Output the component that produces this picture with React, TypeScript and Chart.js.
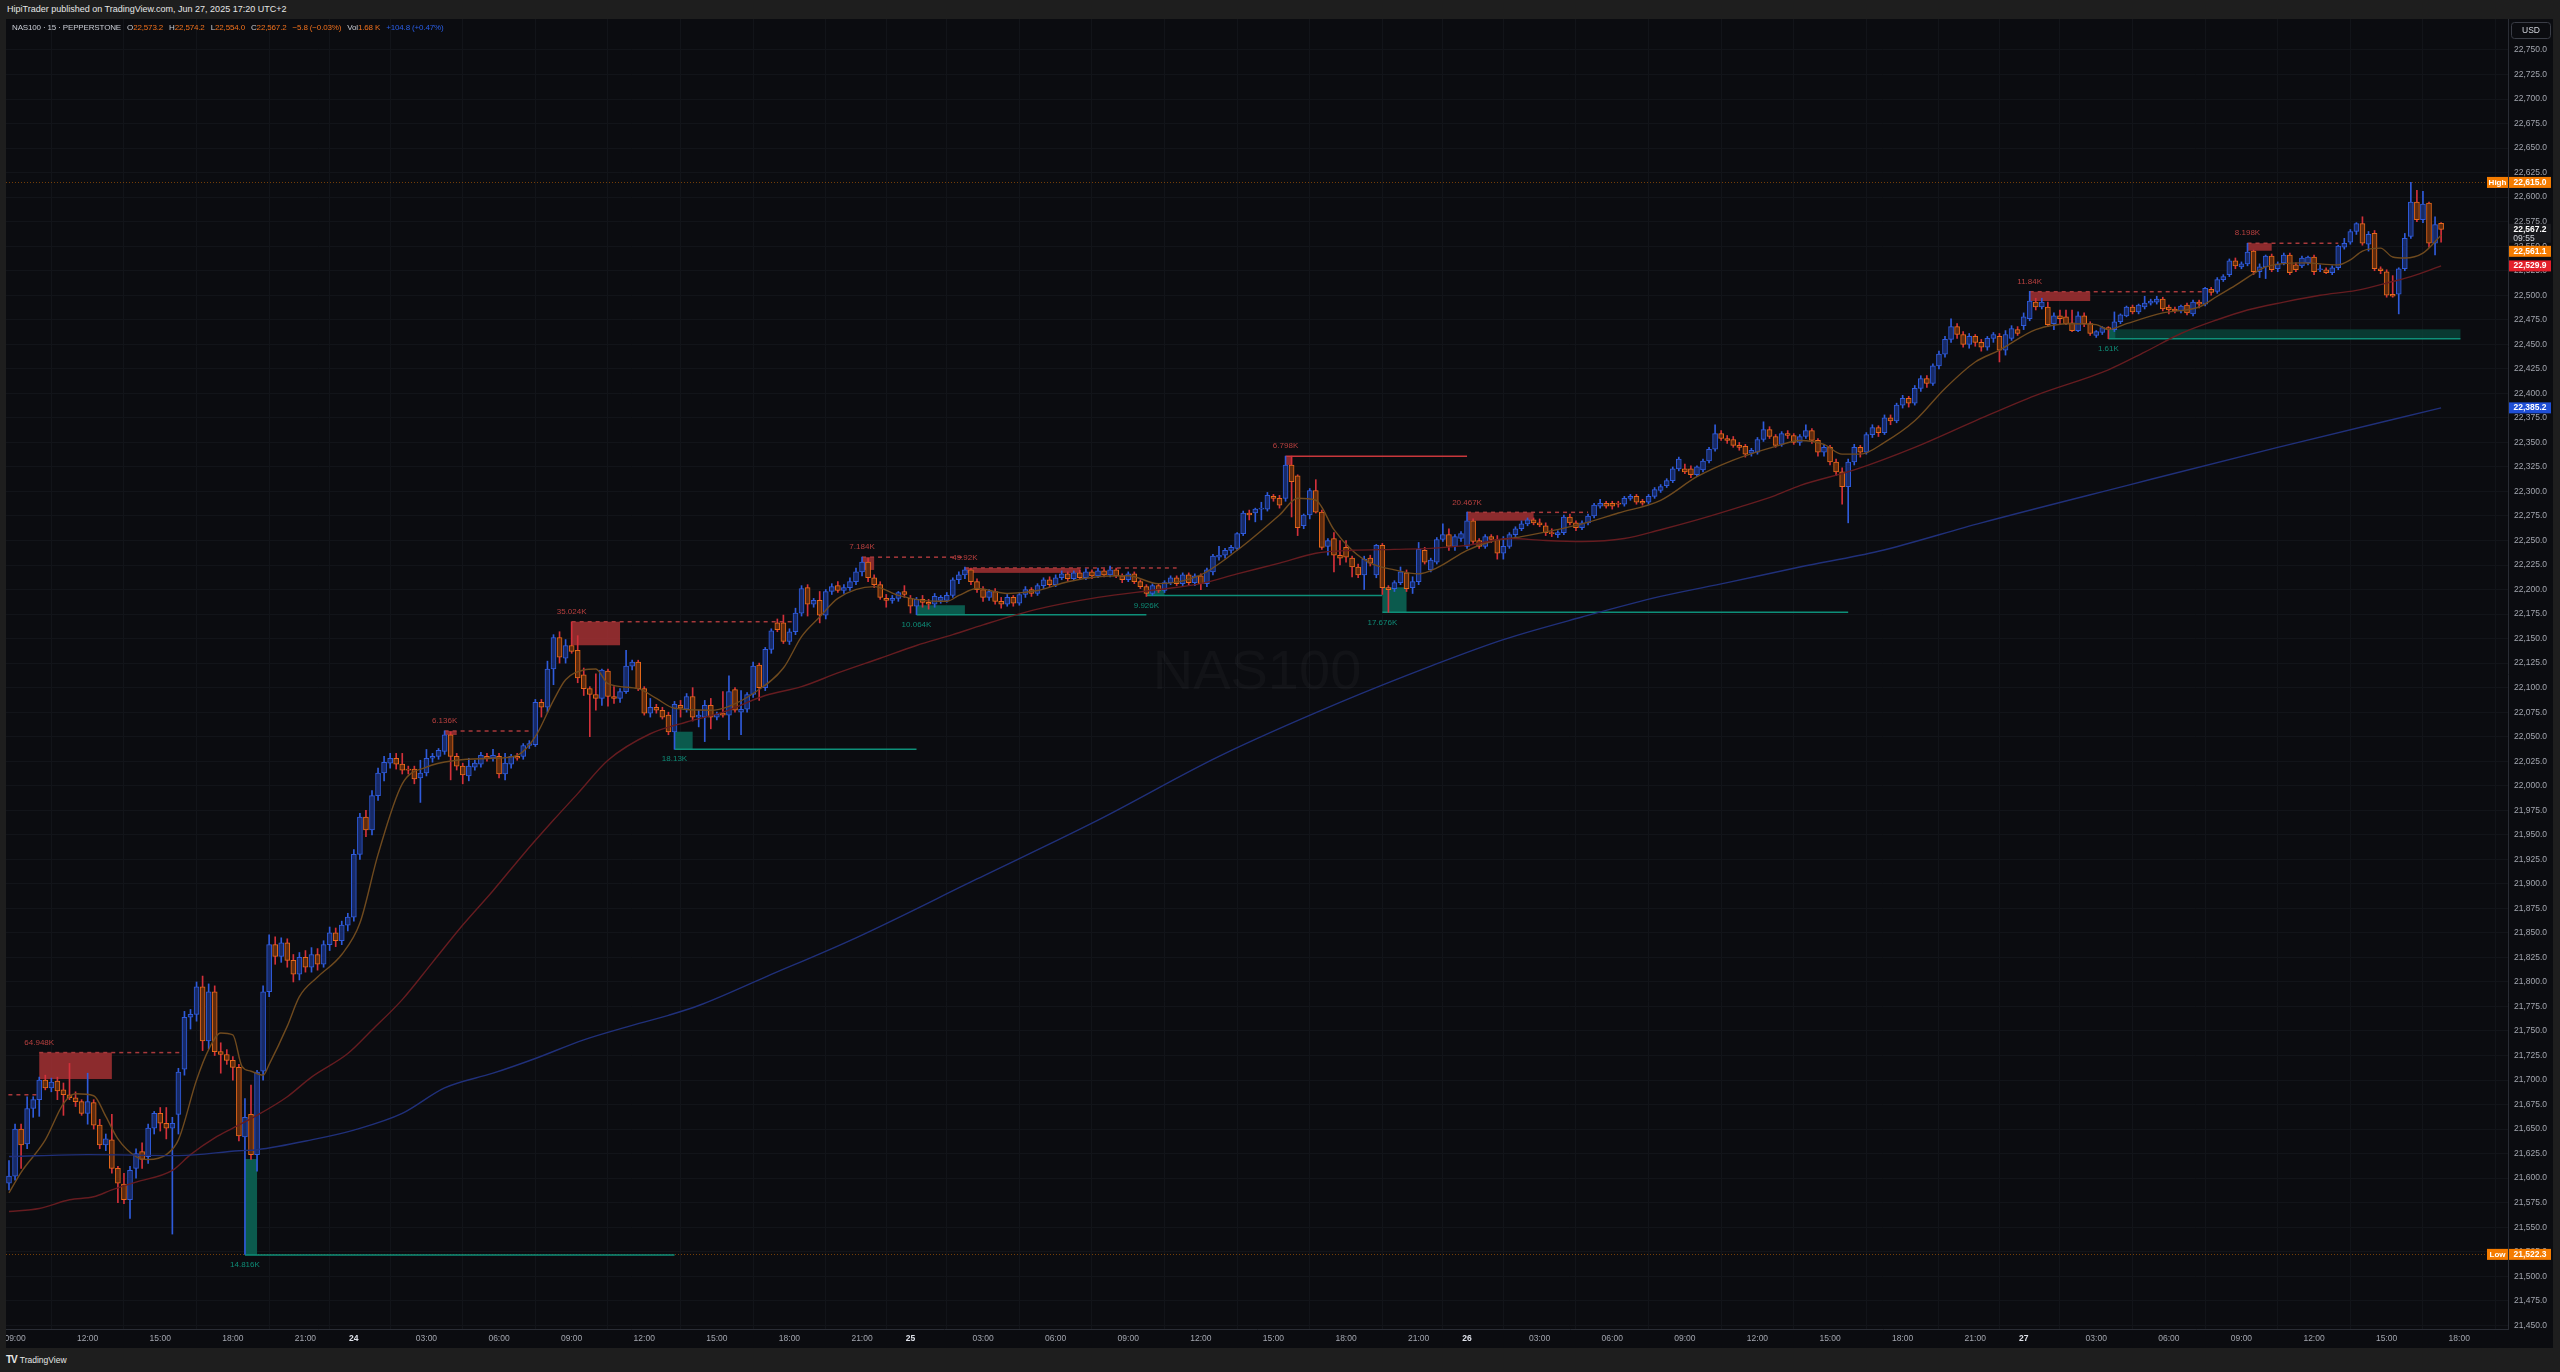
import React, { useEffect, useRef } from 'react';
import { Chart, registerables } from 'chart.js';

Chart.register(...registerables);

type Candle = [number, number, number, number]; // open, high, low, close

// ---- 15-minute candles, NAS100, Jun 23 – Jun 27 2025 ----
const jun23: Candle[] = [
  [21595,21618,21588,21602],[21602,21655,21598,21650],[21650,21655,21610,21634],[21635,21683,21630,21671],
  [21671,21683,21662,21680],[21680,21703,21663,21700],[21700,21705,21690,21692],[21692,21702,21688,21698],
  [21699,21703,21680,21689],[21690,21697,21664,21685],[21685,21717,21680,21682],[21682,21688,21673,21678],
  [21678,21680,21664,21666],[21666,21707,21655,21678],[21677,21680,21650,21654],[21654,21660,21630,21634],
  [21634,21645,21628,21640],[21639,21665,21605,21610],[21610,21612,21575,21595],[21594,21605,21574,21578],
  [21578,21612,21559,21608],[21610,21630,21600,21625],[21627,21636,21610,21619],[21622,21655,21615,21651],
  [21651,21668,21645,21666],[21666,21672,21648,21656],[21656,21672,21640,21651],[21651,21662,21543,21656],
  [21665,21712,21645,21708],[21711,21770,21705,21764],[21764,21772,21752,21767],[21767,21800,21760,21795],
  [21795,21806,21730,21740],[21740,21798,21732,21790],[21790,21796,21725,21729],[21729,21738,21707,21726],
  [21726,21731,21716,21720],[21720,21724,21700,21713],[21713,21716,21638,21643],[21642,21681,21522.3,21662],
  [21665,21695,21619,21624],[21624,21710,21607,21708],[21709,21796,21700,21790],[21790,21848,21785,21838],
  [21838,21846,21818,21826],[21826,21845,21820,21840],[21840,21844,21815,21822],[21822,21828,21800,21808],
  [21808,21830,21802,21825],[21825,21832,21810,21815],[21815,21835,21810,21828],[21828,21834,21812,21818],
  [21818,21842,21815,21838],[21838,21856,21832,21850],[21850,21855,21836,21842],[21842,21862,21838,21858],
  [21858,21870,21852,21866],
];
const jun24: Candle[] = [
  [21866,21935,21862,21930],[21930,21972,21925,21968],[21968,21975,21948,21955],[21955,21995,21950,21990],
  [21990,22018,21985,22013],[22013,22030,22005,22024],[22023,22033,22018,22028],[22028,22033,22017,22022],
  [22022,22033,22012,22016],[22017,22020,22012,22016],[22017,22020,22002,22007],[22008,22026,21983,22013],
  [22013,22037,22010,22028],[22028,22033,22024,22030],[22030,22038,22027,22036],[22035,22056,22032,22052],
  [22052,22055,22006,22030],[22030,22033,22016,22020],[22020,22023,22002,22011],[22010,22028,22005,22020],
  [22019,22026,22016,22023],[22022,22034,22019,22031],[22030,22033,22025,22028],[22028,22037,22025,22031],
  [22030,22033,22008,22012],[22012,22033,22006,22023],[22022,22032,22018,22030],[22030,22033,22026,22028],
  [22030,22043,22027,22041],[22041,22046,22038,22043],[22042,22088,22040,22085],[22085,22088,22070,22080],
  [22080,22127,22075,22119],[22119,22154,22103,22151],[22151,22157,22125,22131],[22130,22149,22125,22143],
  [22143,22167,22135,22137],[22138,22153,22105,22110],[22113,22120,22092,22099],[22099,22101,22050,22093],
  [22093,22114,22077,22089],[22089,22119,22082,22118],[22117,22119,22081,22091],[22091,22101,22084,22089],
  [22089,22099,22085,22096],[22096,22138,22094,22122],[22122,22128,22118,22126],[22126,22128,22097,22099],
  [22099,22101,22072,22074],[22074,22089,22070,22080],[22080,22083,22074,22077],[22077,22080,22068,22070],
  [22072,22075,22052,22055],[22055,22086,22037.2,22083],[22082,22087,22070,22079],[22078,22094,22075,22091],
  [22091,22100,22066,22070],[22070,22077,22060,22072],[22070,22087,22045,22082],[22082,22089,22058,22070],
  [22070,22075,22067,22073],[22074,22096,22070,22072],[22072,22112,22047,22096],[22098,22100,22075,22077],
  [22075,22097,22052,22078],[22078,22095,22075,22093],[22093,22126,22090,22122],[22123,22125,22087,22100],
  [22100,22141,22097,22139],[22139,22160,22135,22158],[22166,22170,22157,22159],[22166,22174,22145,22147],
  [22147,22160,22144,22157],[22157,22181,22154,22176],[22176,22204,22173,22201],[22202,22205,22173,22185],
  [22185,22191,22182,22189],[22189,22198,22166,22174],[22174,22200,22170,22198],[22198,22206,22195,22203],
  [22204,22208,22197,22199],[22199,22205,22196,22202],[22202,22212,22199,22208],[22208,22222,22205,22218],
  [22218,22233,22214,22228],[22228,22232,22208,22212],[22212,22215,22202,22205],[22205,22208,22190,22192],
  [22191,22195,22182,22189],[22189,22194,22186,22191],[22191,22198,22188,22197],[22198,22204,22192,22195],
];
const jun25: Candle[] = [
  [22191,22194,22176,22183],[22183,22192,22174.4,22190],[22190,22194,22182,22187],[22187,22190,22180,22185],
  [22185,22196,22182,22193],[22189,22194,22186,22192],[22189,22197,22187,22194],[22194,22212,22192,22210],
  [22210,22218,22206,22215],[22215,22223,22211,22220],[22220,22222,22205,22208],[22208,22211,22197,22200],
  [22200,22203,22188,22192],[22192,22200,22189,22198],[22198,22201,22185,22188],[22188,22192,22181,22185],
  [22185,22195,22183,22192],[22192,22194,22183,22186],[22186,22197,22184,22195],[22195,22203,22192,22200],
  [22200,22202,22193,22196],[22196,22206,22194,22204],[22204,22212,22201,22210],[22210,22213,22203,22205],
  [22205,22215,22203,22212],[22212,22219,22210,22216],[22216,22218,22208,22211],[22211,22219,22209,22217],
  [22217,22220,22210,22212],[22212,22221,22210,22218],[22218,22220,22211,22214],[22214,22222,22212,22219],
  [22219,22221,22213,22215],[22215,22224,22213,22220],[22220,22222,22212,22214],[22214,22216,22207,22210],
  [22210,22218,22208,22216],[22216,22218,22206,22208],[22208,22210,22201,22203],[22203,22205,22193,22196],
  [22196,22206,22194,22204],[22204,22206,22197,22199],[22199,22209,22197,22207],[22207,22214,22205,22212],
  [22212,22214,22204,22206],[22206,22217,22204,22215],[22215,22217,22205,22207],[22207,22216,22204,22214],
  [22214,22216,22200,22206],[22206,22222,22203,22220],[22218,22236,22215,22234],[22233,22244,22230,22235],
  [22235,22242,22232,22240],[22240,22245,22237,22243],[22242,22258,22240,22257],[22257,22280,22255,22278],
  [22278,22281,22271,22276],[22278,22283,22269,22282],[22282,22289,22271,22283],[22282,22299,22280,22296],
  [22295,22297,22290,22293],[22293,22296,22283,22286],[22293,22336,22290,22327],[22327,22336,22274,22310],
  [22316,22317,22255,22263],[22265,22277,22262,22276],[22276,22303,22272,22301],[22301,22312,22278,22279],
  [22279,22281,22241,22243],[22244,22252,22235,22250],[22252,22258,22218,22235],[22235,22250,22225,22232],
  [22243,22250,22228,22233],[22232,22234,22213,22223],[22223,22226,22212,22215],[22215,22234,22200,22231],
  [22232,22235,22224,22227],[22215,22246,22212,22245],[22245,22247,22195,22202],[22202,22204,22176.8,22200],
  [22201,22209,22198,22207],[22207,22223,22205,22218],[22217,22220,22198,22201],[22202,22213,22196,22208],
  [22208,22248,22205,22241],[22240,22243,22226,22228],[22220,22232,22218,22230],[22228,22253,22226,22251],
  [22251,22267,22249,22256],[22256,22262,22240,22244],[22244,22256,22240,22254],[22252,22259,22249,22257],
];
const jun26: Candle[] = [
  [22244,22279,22242,22270],[22270,22272,22247,22249],[22250,22252,22242,22244],[22244,22256,22242,22254],
  [22254,22256,22248,22251],[22251,22255,22231,22237],[22237,22254,22231,22244],[22244,22258,22242,22256],
  [22256,22264,22254,22262],[22262,22270,22260,22267],[22267,22273,22265,22271],[22271,22273,22266,22268],
  [22268,22272,22264,22266],[22265,22268,22255,22258],[22258,22262,22254,22257],[22256,22260,22253,22258],
  [22258,22276,22256,22274],[22274,22277,22266,22268],[22268,22270,22260,22263],[22263,22270,22261,22268],
  [22268,22277,22266,22275],[22275,22288,22273,22286],[22285,22292,22283,22288],[22288,22290,22283,22285],
  [22288,22290,22282,22285],[22288,22290,22284,22287],[22287,22295,22285,22293],[22293,22297,22291,22295],
  [22295,22297,22287,22289],[22290,22292,22286,22288],[22289,22297,22287,22295],[22295,22304,22293,22302],
  [22301,22307,22299,22305],[22306,22313,22304,22311],[22311,22325,22309,22323],[22323,22335,22321,22333],
  [22323,22328,22318,22320],[22323,22326,22314,22317],[22317,22326,22315,22325],[22322,22333,22320,22331],
  [22331,22345,22329,22343],[22343,22368,22341,22359],[22359,22362,22352,22354],[22354,22357,22349,22352],
  [22353,22356,22345,22347],[22347,22350,22342,22345],[22346,22348,22335,22338],[22339,22344,22336,22342],
  [22340,22355,22338,22353],[22353,22371,22351,22363],[22363,22366,22354,22356],[22356,22358,22345,22347],
  [22348,22361,22346,22359],[22359,22362,22354,22357],[22357,22359,22348,22350],[22350,22358,22347,22356],
  [22356,22368,22354,22362],[22362,22364,22349,22352],[22352,22354,22336,22340],[22340,22348,22336,22345],
  [22345,22347,22327,22330],[22330,22333,22316,22320],[22320,22324,22287,22305],[22305,22333,22268,22330],
  [22330,22348,22327,22345],[22345,22347,22335,22340],[22340,22360,22338,22358],[22358,22368,22355,22365],
  [22365,22367,22356,22360],[22360,22378,22358,22375],[22375,22378,22368,22372],[22372,22390,22370,22388],
  [22388,22398,22385,22395],[22395,22397,22386,22390],[22390,22408,22388,22405],[22405,22418,22402,22415],
  [22415,22418,22406,22410],[22410,22430,22408,22428],[22428,22443,22425,22440],[22440,22458,22437,22455],
  [22455,22476,22452,22468],[22468,22471,22456,22460],[22460,22463,22447,22450],[22450,22461,22446,22458],
  [22458,22460,22448,22452],[22452,22455,22443,22447],[22447,22458,22444,22456],[22456,22462,22452,22460],
  [22458,22461,22432,22444],[22444,22464,22439,22460],[22456,22469,22454,22466],[22465,22468,22459,22461],
];
const jun27: Candle[] = [
  [22469,22482,22465,22478],[22476,22504,22474,22494],[22493,22497,22485,22488],[22488,22497,22486,22493],
  [22488,22493,22468,22470],[22471,22482,22465,22479],[22479,22485,22471,22476],[22478,22485,22470,22471],
  [22472,22485,22463,22464],[22464,22483,22463,22479],[22479,22482,22468,22471],[22471,22473,22459,22461],
  [22459,22464,22457,22463],[22462,22468,22460,22467],[22467,22468,22455.7,22465],[22465,22483,22463,22473],
  [22473,22481,22471,22480],[22479,22489,22478,22488],[22488,22490,22481,22483],[22483,22491,22481,22490],
  [22488,22499,22486,22492],[22492,22496,22490,22494],[22493,22499,22491,22496],[22496,22498,22484,22486],
  [22488,22490,22481,22485],[22486,22488,22482,22484],[22484,22490,22482,22489],[22490,22492,22480,22482],
  [22481,22495,22479,22493],[22493,22495,22487,22491],[22491,22508,22489,22507],[22506,22508,22500,22503],
  [22504,22518,22502,22516],[22516,22521,22514,22519],[22521,22537,22519,22535],[22535,22538,22527,22530],
  [22529,22534,22527,22532],[22532,22553,22530,22544],[22545,22546,22521,22524],[22524,22532,22518,22529],
  [22529,22541,22517,22540],[22540,22542,22524,22526],[22527,22534,22524,22532],[22533,22543,22531,22541],
  [22541,22543,22521,22523],[22531,22533,22524,22526],[22530,22540,22528,22538],[22533,22540,22531,22539],
  [22539,22541,22521,22524],[22526,22531,22524,22527],[22526,22528,22522,22523],[22523,22530,22521,22528],
  [22528,22551,22526,22550],[22549,22558,22547,22553],[22554,22567,22552,22565],[22565,22574,22562,22573],
  [22573,22580,22551,22553],[22552,22565,22545,22562],[22563,22566,22525,22527],[22527,22529,22522,22525],
  [22524,22526,22498,22500],[22501,22520,22498,22499],[22501,22528,22481,22527],[22527,22563,22525,22558],
  [22560,22615,22558,22595],[22595,22607,22575,22577],[22577,22606,22574,22593],[22594,22595,22549,22553],
  [22553,22580,22541,22572],[22573.2,22574.2,22554.0,22567.2],
];

// ---- time axis ----
const tickBars = [1,13,25,37,49,57,69,81,93,105,117,129,141,149,161,173,185,197,209,221,233,241,253,265,277,289,301,313,325,333,345,357,369,381,393,405];
const tickLabels = ['09:00','12:00','15:00','18:00','21:00','24','03:00','06:00','09:00','12:00','15:00','18:00','21:00','25','03:00','06:00','09:00','12:00','15:00','18:00','21:00','26','03:00','06:00','09:00','12:00','15:00','18:00','21:00','27','03:00','06:00','09:00','12:00','15:00','18:00'];
const dayLabels = ['24','25','26','27'];

// ---- price axis ----
const priceTickFrom = 21450;
const priceTickTo = 22750;
const priceTickStep = 25;

// ---- moving averages (read at sample bars) ----
const fastMaBars = [0,2,6,9,11,14,16,18,21,23,26,28,31,33,35,37,38.5,40,42,43,46,48,51,55,58,61,65,69,74,80,84,87,90,92,95,97,99,104,107,110,116,119,123,128,131,134,137,143,147,151,155,157,160,165,170,175,180,185,190,197,203,210,213,216,219,222,225,229,233,236,241,245,250,260,266,273,279,285,292,296,300,303,306,310,315,320,325,329,335,341,345,347,350,356,362,365,368,371,373,379,385,387,389,392,394,396,399,402];
const fastMaValues = [21585,21606,21639,21676,21686,21684,21663,21640,21622,21619,21624,21639,21700,21731,21748,21746,21714,21709,21705,21716,21755,21785,21805,21828,21860,21930,22002,22019,22026,22028,22031,22050,22087,22108,22118,22119,22104,22099,22089,22079,22077,22081,22094,22120,22152,22172,22191,22203,22194,22189,22188,22194,22201,22196,22199,22208,22213,22214,22206,22215,22240,22276,22293,22291,22261,22240,22227,22220,22216,22222,22240,22249,22254,22267,22278,22291,22315,22332,22346,22352,22348,22338,22338,22350,22372,22405,22432,22444,22465,22471,22470,22465,22471,22482,22488,22499,22510,22522,22529,22533,22531,22536,22545,22548,22539,22538,22543,22561.1];
const midMaBars = [0,5,10,14,17,21,27,30,34,37,41,46,50,56,60,65,70,75,80,85,90,94,99,106,112,118,125,131,137,144,150,156,161,170,180,190,197,203,210,216,222,229,235,241,248,254,260,267,273,279,286,292,296,305,315,325,335,347,353,359,365,370,376,382,388,394,397,402];
const midMaValues = [21566,21569,21578,21581,21588,21596,21608,21624,21641,21651,21664,21683,21703,21727,21751,21782,21820,21858,21893,21930,21965,21992,22026,22053,22065,22075,22092,22101,22115,22130,22143,22154,22164,22180,22192,22200,22206,22216,22227,22237,22240,22241,22242,22245,22252,22250,22249,22252,22261,22271,22284,22296,22306,22322,22345,22372,22398,22424,22442,22461,22475,22485,22493,22500,22505,22514,22519,22529.9];
const slowMaBars = [0,13,28,38,41,50,57,65,72,80,87,95,102,109,114,125,140,160,180,200,220,235,247,260,273,284,296,309,326,350,375,402];
const slowMaValues = [21622,21624,21623,21628,21629,21639,21649,21666,21692,21707,21722,21741,21754,21766,21776,21805,21845,21905,21965,22030,22085,22122,22149,22172,22193,22207,22223,22239,22268,22306,22345,22385.2];

// ---- volume-profile zones ----
const supplyZones = [
  { from: -12, to: -2, low: 21672, high: 21685, lineTo: 5, label: '', solid: false },
  { from: 5, to: 17, low: 21701, high: 21728, lineTo: 29, label: '64.948K', solid: false },
  { from: 72, to: 74, low: 22051.7, high: 22055.8, lineTo: 86, label: '6.136K', solid: false },
  { from: 93, to: 101, low: 22143.2, high: 22167.2, lineTo: 130, label: '35.024K', solid: false },
  { from: 141, to: 143, low: 22220, high: 22233, lineTo: 158, label: '7.184K', solid: false },
  { from: 158, to: 177, low: 22217, high: 22222, lineTo: 193, label: '49.92K', solid: false },
  { from: 211, to: 212, low: 22327, high: 22336, lineTo: 241, label: '6.798K', solid: true },
  { from: 241, to: 252, low: 22270.2, high: 22278.7, lineTo: 261, label: '20.467K', solid: false },
  { from: 334, to: 344, low: 22494.1, high: 22503.6, lineTo: 363, label: '11.84K', solid: false },
  { from: 370, to: 374, low: 22545.4, high: 22553, lineTo: 385, label: '8.198K', solid: false },
];
const demandZones = [
  { from: 39, to: 41, low: 21521.6, high: 21619.5, lineTo: 110, extendTo: 0, label: '14.816K' },
  { from: 110, to: 113, low: 22037.2, high: 22055.1, lineTo: 150, extendTo: 0, label: '18.13K' },
  { from: 150, to: 158, low: 22174.4, high: 22184, lineTo: 188, extendTo: 0, label: '10.064K' },
  { from: 188, to: 191, low: 22194, high: 22200, lineTo: 227, extendTo: 0, label: '9.926K' },
  { from: 227, to: 231, low: 22176.8, high: 22202.3, lineTo: 304, extendTo: 0, label: '17.676K' },
  { from: 347, to: 348.2, low: 22455.7, high: 22465.3, lineTo: 405.2, extendTo: 405.2, label: '1.61K' },
];

const symbolName = 'NAS100';
const highValue = 22615.0;
const lowValue = 21522.3;
const lastPrice = 22567.2;
const countdown = '09:55';
const fastLast = 22561.1;
const midLast = 22529.9;
const slowLast = 22385.2;

// ---- layout of the pane (pixels) ----
const PX_PER_BAR = 6.05;
const FIRST_BAR_X = 3;      // canvas x of bar 0
const PX_PER_POINT = 0.981;
const TOP_TICK_Y = 31;      // canvas y of the top price tick

const FONT = '"Liberation Sans", Arial, sans-serif';
const UP = '#2f5bdb';
const UP_FILL = '#172a66';
const DOWN = '#e8691a';
const DOWN_FILL = '#5e2b0e';
const DOWN_WICK = '#d3303a';
const BG = '#0b0c10';

const fmt = (v: number) => v.toLocaleString('en-US', { minimumFractionDigits: 1, maximumFractionDigits: 1 });

const overlay = {
  id: 'overlay',
  beforeDatasetsDraw(chart: any) {
    const { ctx, chartArea: a, scales } = chart;
    const x = scales.x, y = scales.y;
    ctx.save();
    ctx.beginPath();
    ctx.rect(a.left, a.top, a.right - a.left, a.bottom - a.top);
    ctx.clip();
    ctx.font = `56px ${FONT}`;
    ctx.fillStyle = 'rgba(255,255,255,0.03)';
    ctx.textAlign = 'center';
    ctx.textBaseline = 'middle';
    ctx.fillText(symbolName, (a.left + a.right) / 2, 655);
    ctx.strokeStyle = 'rgba(245,124,0,0.45)';
    ctx.lineWidth = 1;
    ctx.setLineDash([1, 2]);
    [highValue, lowValue].forEach((v) => {
      const py = Math.round(y.getPixelForValue(v)) + 0.5;
      ctx.beginPath();
      ctx.moveTo(a.left, py);
      ctx.lineTo(a.right, py);
      ctx.stroke();
    });
    ctx.setLineDash([]);
    supplyZones.forEach((z) => {
      const x0 = x.getPixelForValue(z.from), x1 = x.getPixelForValue(z.to);
      const yt = y.getPixelForValue(z.high), yb = y.getPixelForValue(z.low);
      ctx.fillStyle = 'rgba(168,50,52,0.82)';
      ctx.fillRect(x0, yt, x1 - x0, Math.max(yb - yt, 2));
      ctx.strokeStyle = z.solid ? '#c8373b' : '#a8393b';
      ctx.lineWidth = 1.5;
      ctx.setLineDash(z.solid ? [] : [4, 4]);
      ctx.beginPath();
      ctx.moveTo(x0, yt);
      ctx.lineTo(x.getPixelForValue(z.lineTo), yt);
      ctx.stroke();
      ctx.setLineDash([]);
    });
    demandZones.forEach((z) => {
      const x0 = x.getPixelForValue(z.from), x1 = x.getPixelForValue(z.to);
      const yt = y.getPixelForValue(z.high), yb = y.getPixelForValue(z.low);
      if (z.extendTo) {
        const xe = x.getPixelForValue(z.extendTo);
        ctx.fillStyle = 'rgba(10,72,62,0.75)';
        ctx.fillRect(x1, yt, xe - x1, yb - yt);
      }
      ctx.fillStyle = '#0b5a4d';
      ctx.fillRect(x0, yt, x1 - x0, yb - yt);
      ctx.strokeStyle = '#0e8f79';
      ctx.lineWidth = 1.5;
      ctx.beginPath();
      ctx.moveTo(x0, yb);
      ctx.lineTo(x.getPixelForValue(z.lineTo), yb);
      ctx.stroke();
    });
    ctx.restore();
  },
  afterDatasetsDraw(chart: any) {
    const { ctx, chartArea: a, scales } = chart;
    const x = scales.x, y = scales.y;
    ctx.save();
    ctx.beginPath();
    ctx.rect(a.left, a.top, a.right - a.left, a.bottom - a.top);
    ctx.clip();
    ctx.font = `8px ${FONT}`;
    ctx.textAlign = 'center';
    ctx.textBaseline = 'middle';
    supplyZones.forEach((z) => {
      if (!z.label) return;
      ctx.fillStyle = '#b8403f';
      ctx.fillText(z.label, x.getPixelForValue(z.from), y.getPixelForValue(z.high) - 10);
    });
    demandZones.forEach((z) => {
      ctx.fillStyle = '#0e8c77';
      ctx.fillText(z.label, x.getPixelForValue(z.from), y.getPixelForValue(z.low) + 10);
    });
    ctx.restore();
  },
  afterDraw(chart: any) {
    const { ctx, scales } = chart;
    const y = scales.y;
    const left = y.left + 1;
    const w = 42;
    ctx.save();
    ctx.fillStyle = BG;
    ctx.strokeStyle = '#3a3d46';
    ctx.lineWidth = 1;
    ctx.beginPath();
    (ctx as any).roundRect(left + 2.5, 3.5, 39, 16, 3);
    ctx.fill();
    ctx.stroke();
    ctx.fillStyle = '#d1d4dc';
    ctx.font = `8.5px ${FONT}`;
    ctx.textAlign = 'center';
    ctx.textBaseline = 'middle';
    ctx.fillText('USD', left + 22, 11.5);

    const labels = [
      { v: highValue, bg: '#f57c00', tag: 'High', h: 11, sub: '' },
      { v: lastPrice, bg: '#18191d', tag: '', h: 19, sub: countdown },
      { v: fastLast, bg: '#f57c00', tag: '', h: 11, sub: '' },
      { v: midLast, bg: '#e4202b', tag: '', h: 11, sub: '' },
      { v: slowLast, bg: '#1f4fd6', tag: '', h: 11, sub: '' },
      { v: lowValue, bg: '#f57c00', tag: 'Low', h: 11, sub: '' },
    ];
    let prevBottom = -1e9;
    labels.forEach((l) => {
      const py = y.getPixelForValue(l.v);
      let top = py - 5.5;
      if (top < prevBottom + 3) top = prevBottom + 3;
      prevBottom = top + l.h;
      ctx.fillStyle = l.bg;
      ctx.fillRect(left, top, w, l.h);
      ctx.fillStyle = '#ffffff';
      ctx.font = `bold 8.5px ${FONT}`;
      ctx.textAlign = 'center';
      ctx.textBaseline = 'middle';
      ctx.fillText(fmt(l.v), left + w / 2, top + 5.7);
      if (l.sub) {
        ctx.font = `8.5px ${FONT}`;
        ctx.fillStyle = '#d1d4dc';
        ctx.fillText(l.sub, left + w / 2 - 6, top + 14.5);
      }
      if (l.tag) {
        ctx.fillStyle = l.bg;
        ctx.fillRect(left - 22, top, 21, l.h);
        ctx.fillStyle = '#ffffff';
        ctx.font = `bold 8px ${FONT}`;
        ctx.fillText(l.tag, left - 11.5, top + 5.7);
      }
    });
    ctx.restore();
  },
};

export default function App() {
  const ref = useRef<HTMLCanvasElement>(null);

  useEffect(() => {
    const candles = [...jun23, ...jun24, ...jun25, ...jun26, ...jun27];
    const isUp = candles.map((c) => c[3] >= c[0]);
    const dayBars = tickBars.filter((_, i) => dayLabels.includes(tickLabels[i]));
    const line = (bars: number[], vals: number[], color: string) => ({
      type: 'line' as const,
      data: bars.map((b, i) => ({ x: b, y: vals[i] })),
      borderColor: color,
      borderWidth: 1.4,
      pointRadius: 0,
      cubicInterpolationMode: 'monotone' as const,
      order: 0,
    });
    const chart: any = new Chart(ref.current as HTMLCanvasElement, {
      type: 'bar',
      data: {
        datasets: [
          line(slowMaBars, slowMaValues, '#20307a') as any,
          line(midMaBars, midMaValues, '#661c20') as any,
          line(fastMaBars, fastMaValues, '#6f4a1e') as any,
          {
            type: 'bar',
            data: candles.map((c, i) => ({ x: i, y: [c[2], c[1]] })),
            backgroundColor: isUp.map((u) => (u ? UP : DOWN_WICK)),
            barThickness: 1,
            grouped: false,
            order: 2,
          } as any,
          {
            type: 'bar',
            data: candles.map((c, i) => ({ x: i, y: [c[0], c[3]] })),
            backgroundColor: isUp.map((u) => (u ? UP_FILL : DOWN_FILL)),
            borderColor: isUp.map((u) => (u ? UP : DOWN)),
            borderWidth: 1,
            borderSkipped: false,
            barThickness: 5,
            minBarLength: 1,
            grouped: false,
            order: 1,
          } as any,
        ],
      },
      options: {
        animation: false,
        responsive: false,
        devicePixelRatio: 1,
        events: [],
        layout: { padding: 0, autoPadding: false } as any,
        plugins: { legend: { display: false }, tooltip: { enabled: false } },
        scales: {
          x: {
            type: 'linear',
            min: -0.5,
            max: 413,
            offset: false,
            afterBuildTicks: (s: any) => { s.ticks = tickBars.map((v) => ({ value: v })); },
            afterFit: (s: any) => {
              s.height = 19;
              s.paddingLeft = 0; s.paddingRight = 0; s.paddingTop = 0; s.paddingBottom = 0;
            },
            grid: { color: '#121419', drawTicks: false },
            border: { color: '#2a2d35' },
            ticks: {
              autoSkip: false,
              maxRotation: 0,
              padding: 5,
              callback: (v: any) => tickLabels[tickBars.indexOf(Number(v))] ?? '',
              color: (c: any) => (dayBars.includes(c.tick?.value) ? '#e0e3eb' : '#a3a6af'),
              font: (c: any) => ({ family: FONT, size: 8.5, weight: dayBars.includes(c.tick?.value) ? 'bold' : 'normal' }),
            },
          } as any,
          y: {
            type: 'linear',
            position: 'right',
            min: 21446.2,
            max: 22781.6,
            afterBuildTicks: (s: any) => {
              const t = [];
              for (let v = priceTickFrom; v <= priceTickTo; v += priceTickStep) t.push({ value: v });
              s.ticks = t;
            },
            afterFit: (s: any) => {
              s.width = 45;
              s.paddingLeft = 0; s.paddingRight = 0; s.paddingTop = 0; s.paddingBottom = 0;
            },
            grid: { color: '#121419', drawTicks: false },
            border: { color: '#2a2d35' },
            ticks: {
              padding: 6,
              color: '#a3a6af',
              font: { family: FONT, size: 8.5 },
              callback: (v: any) => fmt(Number(v)),
            },
          } as any,
        },
      },
      plugins: [overlay],
    });
    // pin the value-to-pixel mapping to the reference pane geometry
    for (let pass = 0; pass < 2; pass++) {
      const a = chart.chartArea;
      const xs = chart.options.scales.x;
      const ys = chart.options.scales.y;
      xs.min = -(FIRST_BAR_X - a.left) / PX_PER_BAR;
      xs.max = xs.min + (a.right - a.left) / PX_PER_BAR;
      ys.max = priceTickTo + (TOP_TICK_Y - a.top) / PX_PER_POINT;
      ys.min = ys.max - (a.bottom - a.top) / PX_PER_POINT;
      chart.update();
    }
    return () => chart.destroy();
  }, []);

  const orange = '#f0701c';
  const lab = '#c9ccd4';
  return (
    <div style={{ position: 'fixed', left: 0, top: 0, width: 2560, height: 1372, background: '#1e1e1e', overflow: 'hidden', fontFamily: FONT }}>
      <div style={{ position: 'absolute', left: 7, top: 4, fontSize: 9, color: '#e6e6e6', whiteSpace: 'nowrap' }}>
        HipiTrader published on TradingView.com, Jun 27, 2025 17:20 UTC+2
      </div>
      <div style={{ position: 'absolute', left: 6, top: 19, width: 2547, height: 1329, background: BG }}>
        <canvas ref={ref} width={2547} height={1329} style={{ position: 'absolute', left: 0, top: 0, width: 2547, height: 1329 }} />
        <div style={{ position: 'absolute', left: 6, top: 4, display: 'flex', gap: 6, fontSize: 8, letterSpacing: -0.15, color: lab, whiteSpace: 'nowrap' }}>
          <span>NAS100 · 15 · PEPPERSTONE</span>
          <span>O<span style={{ color: orange }}>22,573.2</span></span>
          <span>H<span style={{ color: orange }}>22,574.2</span></span>
          <span>L<span style={{ color: orange }}>22,554.0</span></span>
          <span>C<span style={{ color: orange }}>22,567.2</span></span>
          <span style={{ color: orange }}>−5.8 (−0.03%)</span>
          <span>Vol<span style={{ color: orange }}>1.68 K</span></span>
          <span style={{ color: '#2a5fe8' }}>+104.8 (+0.47%)</span>
        </div>
      </div>
      <div style={{ position: 'absolute', left: 6, top: 1354, fontSize: 8.5, color: '#e6e6e6', whiteSpace: 'nowrap' }}>
        <span style={{ fontWeight: 'bold', fontSize: 10, letterSpacing: -1, marginRight: 3 }}>TV</span>TradingView
      </div>
    </div>
  );
}
